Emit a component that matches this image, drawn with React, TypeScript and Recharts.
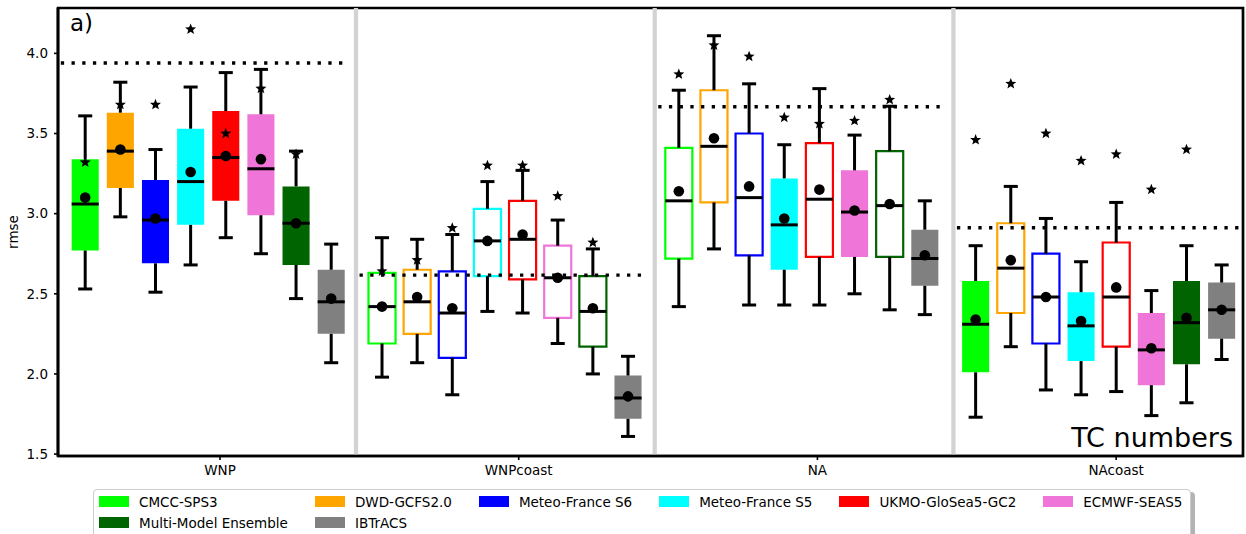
import React from "react";
import { ComposedChart, XAxis, YAxis, ReferenceArea, ReferenceLine, Scatter } from "recharts";

const FONT = "'DejaVu Sans', sans-serif";

const regions = ["WNP", "WNPcoast", "NA", "NAcoast"];
const models = [
  "CMCC-SPS3",
  "DWD-GCFS2.0",
  "Meteo-France S6",
  "Meteo-France S5",
  "UKMO-GloSea5-GC2",
  "ECMWF-SEAS5",
  "Multi-Model Ensemble",
  "IBTrACS",
];
const modelColors = ["#00ff00", "#ffa500", "#0000ff", "#00ffff", "#ff0000", "#f075d8", "#006400", "#808080"];

// one row per region, one value per model (same order as `models`)
const whiskerLow = [
  [2.53, 2.98, 2.51, 2.68, 2.85, 2.75, 2.47, 2.07],
  [1.98, 2.07, 1.87, 2.39, 2.38, 2.19, 2.0, 1.61],
  [2.42, 2.78, 2.43, 2.43, 2.43, 2.5, 2.4, 2.37],
  [1.73, 2.17, 1.9, 1.87, 1.89, 1.74, 1.82, 2.09],
];
const quartile1 = [
  [2.77, 3.16, 2.69, 2.93, 3.08, 2.99, 2.68, 2.25],
  [2.19, 2.25, 2.1, 2.61, 2.59, 2.35, 2.17, 1.72],
  [2.72, 3.07, 2.74, 2.65, 2.73, 2.73, 2.73, 2.55],
  [2.01, 2.38, 2.19, 2.08, 2.17, 1.93, 2.06, 2.22],
];
const medians = [
  [3.06, 3.39, 2.96, 3.2, 3.35, 3.28, 2.94, 2.45],
  [2.42, 2.45, 2.38, 2.83, 2.84, 2.6, 2.39, 1.85],
  [3.08, 3.42, 3.1, 2.93, 3.09, 3.01, 3.05, 2.72],
  [2.31, 2.66, 2.48, 2.3, 2.48, 2.15, 2.32, 2.4],
];
const means = [
  [3.1, 3.4, 2.97, 3.26, 3.36, 3.34, 2.94, 2.47],
  [2.42, 2.48, 2.41, 2.83, 2.87, 2.6, 2.41, 1.86],
  [3.14, 3.47, 3.17, 2.97, 3.15, 3.02, 3.06, 2.74],
  [2.34, 2.71, 2.48, 2.33, 2.54, 2.16, 2.35, 2.4],
];
const quartile3 = [
  [3.34, 3.63, 3.21, 3.53, 3.64, 3.62, 3.17, 2.65],
  [2.63, 2.65, 2.64, 3.03, 3.08, 2.8, 2.61, 1.99],
  [3.41, 3.77, 3.5, 3.22, 3.44, 3.27, 3.39, 2.9],
  [2.58, 2.94, 2.75, 2.51, 2.82, 2.38, 2.58, 2.57],
];
const whiskerHigh = [
  [3.61, 3.82, 3.4, 3.79, 3.88, 3.9, 3.39, 2.81],
  [2.85, 2.84, 2.87, 3.2, 3.27, 2.96, 2.78, 2.11],
  [3.77, 4.11, 3.81, 3.43, 3.78, 3.49, 3.67, 3.08],
  [2.8, 3.17, 2.97, 2.7, 3.07, 2.52, 2.8, 2.68],
];
const stars = [
  [3.32, 3.68, 3.68, 4.15, 3.5, 3.78, 3.37, null],
  [2.64, 2.71, 2.91, 3.3, 3.3, 3.11, 2.82, null],
  [3.87, 4.05, 3.98, 3.6, 3.56, 3.58, 3.71, null],
  [3.46, 3.81, 3.5, 3.33, 3.37, 3.15, 3.4, null],
];
// filled box = solid colour, otherwise outline only
const filled = [
  [true, true, true, true, true, true, true, true],
  [false, false, false, false, false, false, false, true],
  [false, false, false, true, false, true, false, true],
  [true, false, false, true, false, true, true, true],
];
// dotted line per region
const tcNumbers = [3.94, 2.617, 3.667, 2.912];
const yTicks = [1.5, 2.0, 2.5, 3.0, 3.5, 4.0];

// layout in "box slot" units
const X_MAX = 33.72;
const Y_MIN = 1.488;
const Y_MAX = 4.283;
const PANEL = 8.5;
const BOX_STEP = 8.446;
const BOX_START = 0.774;
const BOX_HALF = 0.385;
const CAP_HALF = 0.2;

const boxX = (g: number, i: number) => BOX_START + g * BOX_STEP + i;
const tickPositions = regions.map((_, g) => g * PANEL + 4.61);
const separators = [1, 2, 3].map((k) => k * PANEL - 0.02);

const meanPoints = regions.flatMap((_, g) => models.map((_, i) => ({ x: boxX(g, i), y: means[g][i] })));
const starPoints = regions.flatMap((_, g) =>
  models
    .map((_, i) => ({ x: boxX(g, i), y: stars[g][i] }))
    .filter((p) => p.y !== null)
);

const dotShape = (p: any) => <circle cx={p.cx} cy={p.cy} r={5.3} fill="#000" />;

const starShape = (p: any) => {
  const pts: string[] = [];
  for (let k = 0; k < 10; k++) {
    const a = -Math.PI / 2 + (k * Math.PI) / 5;
    const rad = k % 2 === 0 ? 5.8 : 2.5;
    pts.push(`${p.cx + rad * Math.cos(a)},${p.cy + rad * Math.sin(a)}`);
  }
  return <polygon points={pts.join(" ")} fill="#000" />;
};

function Legend() {
  return (
    <div
      style={{
        position: "absolute",
        left: 93,
        top: 489,
        width: 1098,
        height: 60,
        border: "1px solid #cccccc",
        borderRadius: 4,
        boxShadow: "4px 3px 0 #b3b3b3",
        background: "#fff",
        boxSizing: "border-box",
        padding: "1px 0 0 5px",
        display: "grid",
        gridTemplateColumns: "repeat(6, max-content)",
        columnGap: 27,
        gridAutoRows: 21,
        fontFamily: FONT,
        fontSize: 13.5,
        color: "#000",
      }}
    >
      {models.map((m, i) => (
        <div key={m} style={{ display: "flex", alignItems: "center", height: 21 }}>
          <span style={{ display: "inline-block", width: 30, height: 11, background: modelColors[i], marginRight: 10 }} />
          <span>{m}</span>
        </div>
      ))}
    </div>
  );
}

export default function App() {
  return (
    <div
      style={{
        position: "absolute",
        left: 0,
        top: 0,
        width: 1246,
        height: 534,
        overflow: "hidden",
        background: "#fff",
        fontFamily: FONT,
      }}
    >
      <ComposedChart width={1246} height={534} margin={{ top: 8, right: 3, bottom: 48, left: 0 }}>
        <XAxis
          type="number"
          dataKey="x"
          domain={[0, X_MAX]}
          allowDataOverflow
          ticks={tickPositions}
          interval={0}
          tickFormatter={(_v: number, i: number) => regions[i]}
          height={30}
          tickSize={4}
          tickMargin={5}
          axisLine={{ stroke: "#000", strokeWidth: 2.7 }}
          tickLine={{ stroke: "#000", strokeWidth: 1.6 }}
          tick={{ fill: "#000", fontSize: 13.5, fontFamily: FONT }}
        />
        <YAxis
          type="number"
          domain={[Y_MIN, Y_MAX]}
          allowDataOverflow
          ticks={yTicks}
          interval={0}
          tickFormatter={(v: number) => v.toFixed(1)}
          width={58}
          tickSize={4}
          tickMargin={6}
          axisLine={{ stroke: "#000", strokeWidth: 2.7 }}
          tickLine={{ stroke: "#000", strokeWidth: 1.6 }}
          tick={{ fill: "#000", fontSize: 13.5, fontFamily: FONT }}
        />

        {separators.map((s) => (
          <ReferenceLine key={`sep${s}`} x={s} stroke="#d3d3d3" strokeWidth={4.3} />
        ))}

        {tcNumbers.map((v, g) => (
          <ReferenceLine
            key={`tc${g}`}
            segment={[
              { x: g * PANEL + 0.08, y: v },
              { x: Math.min(g * PANEL + 8.3, X_MAX - 0.03), y: v },
            ]}
            stroke="#000"
            strokeWidth={3.3}
            strokeDasharray="3.3 7.4"
          />
        ))}

        {regions.flatMap((_, g) =>
          models.map((_, i) => {
            const x = boxX(g, i);
            const fill = filled[g][i];
            return (
              <ReferenceArea
                key={`box${g}-${i}`}
                x1={x - BOX_HALF}
                x2={x + BOX_HALF}
                y1={quartile1[g][i]}
                y2={quartile3[g][i]}
                fill={fill ? modelColors[i] : "none"}
                fillOpacity={1}
                stroke={fill ? "none" : modelColors[i]}
                strokeWidth={2.2}
              />
            );
          })
        )}

        {regions.flatMap((_, g) =>
          models.flatMap((_, i) => {
            const x = boxX(g, i);
            const k = `${g}-${i}`;
            const line = { stroke: "#000", strokeWidth: 3 };
            return [
              <ReferenceLine key={`wu${k}`} segment={[{ x, y: quartile3[g][i] }, { x, y: whiskerHigh[g][i] }]} {...line} />,
              <ReferenceLine key={`wl${k}`} segment={[{ x, y: quartile1[g][i] }, { x, y: whiskerLow[g][i] }]} {...line} />,
              <ReferenceLine
                key={`cu${k}`}
                segment={[{ x: x - CAP_HALF, y: whiskerHigh[g][i] }, { x: x + CAP_HALF, y: whiskerHigh[g][i] }]}
                {...line}
              />,
              <ReferenceLine
                key={`cl${k}`}
                segment={[{ x: x - CAP_HALF, y: whiskerLow[g][i] }, { x: x + CAP_HALF, y: whiskerLow[g][i] }]}
                {...line}
              />,
              <ReferenceLine
                key={`md${k}`}
                segment={[{ x: x - BOX_HALF, y: medians[g][i] }, { x: x + BOX_HALF, y: medians[g][i] }]}
                {...line}
              />,
            ];
          })
        )}

        <ReferenceArea
          x1={0}
          x2={X_MAX}
          y1={Y_MIN}
          y2={Y_MAX}
          fill="none"
          stroke="#000"
          strokeWidth={2.7}
          ifOverflow="visible"
        />

        <Scatter data={meanPoints} dataKey="y" shape={dotShape} isAnimationActive={false} />
        <Scatter data={starPoints} dataKey="y" shape={starShape} isAnimationActive={false} />

        <text x={70} y={31} fontSize={23} fontFamily={FONT} fill="#000">
          a)
        </text>
        <text x={1233} y={447} fontSize={27} fontFamily={FONT} fill="#000" textAnchor="end">
          TC numbers
        </text>
        <text
          x={18}
          y={232}
          fontSize={13.5}
          fontFamily={FONT}
          fill="#000"
          textAnchor="middle"
          transform="rotate(-90 18 232)"
        >
          rmse
        </text>
      </ComposedChart>
      <Legend />
    </div>
  );
}
